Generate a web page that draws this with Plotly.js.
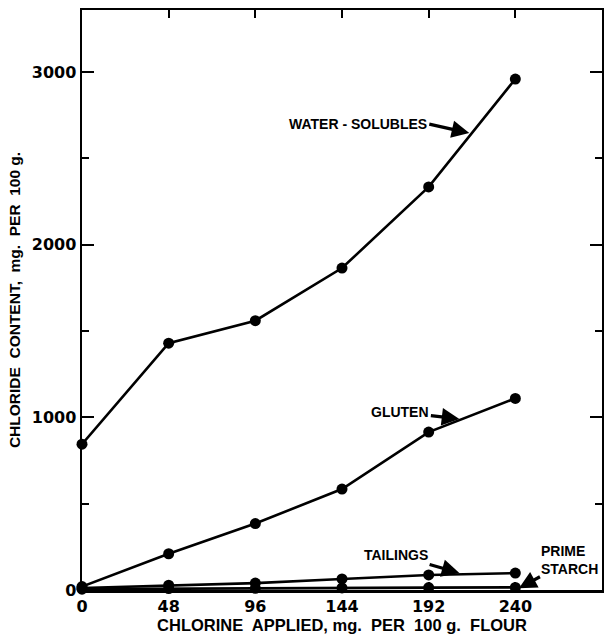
<!DOCTYPE html>
<html><head><meta charset="utf-8">
<script src="https://cdn.plot.ly/plotly-3.0.1.min.js"></script>
<style>html,body{margin:0;padding:0;background:#fff}#c{width:604px;height:638px}</style>
</head><body><div id="c"></div>
<script>
const chlorine = [0, 48, 96, 144, 192, 240];
const waterSolubles = [845, 1430, 1560, 1865, 2335, 2960];
const gluten = [20, 210, 385, 585, 915, 1110];
const tailings = [12, 28, 40, 64, 87, 98];
const primeStarch = [5, 8, 10, 12, 14, 15];
const xTicks = [0, 48, 96, 144, 192, 240];
const yTicks = [0, 1000, 2000, 3000];

const F = "Liberation Sans, Arial, sans-serif";
const FT = "DejaVu Sans, sans-serif";
function series(y){
  return {x: chlorine, y: y, mode: 'lines+markers', type: 'scatter',
    line: {color: '#000', width: 2.6},
    marker: {color: '#000', size: 11}, cliponaxis: false, showlegend: false};
}
const data = [series(waterSolubles), series(gluten), series(tailings), series(primeStarch)];
const annFont = {family: F, size: 14, color: '#000', weight: 'bold'};
const arr = {showarrow: true, arrowhead: 2, arrowsize: 1.1, arrowwidth: 3.2, arrowcolor: '#000', font: annFont};
const layout = {
  width: 604, height: 638,
  margin: {l: 82, r: 2, t: 10, b: 48},
  paper_bgcolor: '#fff', plot_bgcolor: '#fff',
  showlegend: false,
  xaxis: {range: [0, 288], tickvals: xTicks, ticktext: xTicks.map(String),
    ticks: 'inside', ticklen: 8, tickwidth: 2, tickcolor: '#000', mirror: 'ticks',
    showline: true, linewidth: 2.5, linecolor: '#000', showgrid: false, zeroline: false,
    tickfont: {family: FT, size: 16, color: '#000', weight: 'bold'},
    title: {text: 'CHLORINE  APPLIED, mg.  PER  100 g.  FLOUR', standoff: 2,
      font: {family: F, size: 16.5, color: '#000', weight: 'bold'}}},
  yaxis: {range: [0, 3360], tickvals: yTicks, ticktext: yTicks.map(String),
    ticks: 'inside', ticklen: 12, tickwidth: 2, tickcolor: '#000', mirror: 'ticks',
    minor: {dtick: 500, ticks: 'inside', ticklen: 7, tickwidth: 2, tickcolor: '#000'},
    showline: true, linewidth: 2.5, linecolor: '#000', showgrid: false, zeroline: false,
    tickfont: {family: FT, size: 16, color: '#000', weight: 'bold'},
    title: {text: 'CHLORIDE  CONTENT,  mg.  PER  100 g.', standoff: 8,
      font: {family: F, size: 15.5, color: '#000', weight: 'bold'}}},
  annotations: [
    Object.assign({x: 214.5, y: 2647, ax: -40, ay: -9, text: 'WATER - SOLUBLES', xanchor: 'right'}, arr),
    Object.assign({x: 209, y: 991, ax: -59, ay: -7, text: 'GLUTEN'}, arr),
    Object.assign({x: 209, y: 98, ax: -63, ay: -18, text: 'TAILINGS'}, arr),
    Object.assign({x: 242, y: 10, ax: 51, ay: -28, text: 'PRIME<br>STARCH', align: 'left'}, arr)
  ]
};
Plotly.newPlot('c', data, layout, {displayModeBar: false, staticPlot: true});
</script></body></html>
